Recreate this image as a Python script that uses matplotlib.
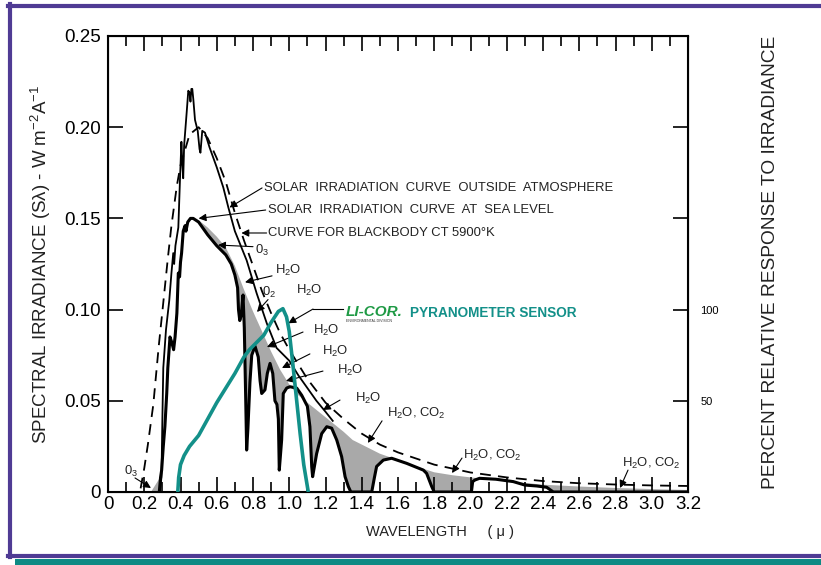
import numpy as np
import matplotlib.pyplot as plt
from matplotlib.lines import Line2D
from matplotlib.patches import Rectangle

plt.rcParams['font.family'] = ['Liberation Sans', 'DejaVu Sans']
plt.rcParams['mathtext.fontset'] = 'custom'
plt.rcParams['mathtext.rm'] = 'Liberation Sans'
plt.rcParams['mathtext.it'] = 'Liberation Sans:italic'

# wavelength (micron) / spectral irradiance (W m-2 A-1)
outside_x = [0.285, 0.295, 0.300, 0.305, 0.320, 0.338, 0.350, 0.360, 0.365, 0.372,
             0.388, 0.397, 0.405, 0.410, 0.415, 0.420, 0.434, 0.443, 0.450, 0.455,
             0.460, 0.465, 0.471, 0.480, 0.495, 0.505, 0.510, 0.520, 0.535, 0.560,
             0.600, 0.636, 0.664, 0.700, 0.765, 0.820, 0.876, 0.930, 1.000, 1.050,
             1.100, 1.150, 1.200, 1.240]
outside_y = [0.000, 0.008, 0.040, 0.068, 0.089, 0.105, 0.120, 0.131, 0.125, 0.135,
             0.145, 0.171, 0.192, 0.180, 0.172, 0.190, 0.208, 0.220, 0.219, 0.214,
             0.221, 0.221, 0.215, 0.204, 0.198, 0.188, 0.186, 0.198, 0.197, 0.189,
             0.178, 0.167, 0.156, 0.143, 0.127, 0.109, 0.0925, 0.079, 0.072, 0.064,
             0.057, 0.050, 0.044, 0.039]

sea_x = [0.283, 0.290, 0.296, 0.305, 0.314, 0.324, 0.330, 0.342, 0.352, 0.362,
         0.370, 0.380, 0.388, 0.395, 0.400, 0.406, 0.415, 0.425, 0.430, 0.440,
         0.455, 0.470, 0.500, 0.550, 0.600, 0.650, 0.680, 0.700, 0.715, 0.720,
         0.727, 0.735, 0.745, 0.752, 0.760, 0.765, 0.772, 0.783, 0.793, 0.811,
         0.829, 0.839, 0.848, 0.866, 0.879, 0.894, 0.909, 0.921, 0.932, 0.940,
         0.945, 0.958, 0.967, 0.986, 1.004, 1.041, 1.069, 1.087, 1.100, 1.114,
         1.124, 1.129, 1.151, 1.179, 1.207, 1.234, 1.262, 1.289, 1.308, 1.326,
         1.340, 1.455, 1.470, 1.482, 1.519, 1.565, 1.648, 1.740, 1.758, 1.786,
         1.800, 2.005, 2.012, 2.025, 2.050, 2.140, 2.236, 2.300, 2.365, 2.420,
         2.457, 3.200]
sea_y = [0.000, 0.008, 0.012, 0.025, 0.036, 0.054, 0.068, 0.085, 0.082, 0.078,
         0.085, 0.098, 0.120, 0.118, 0.126, 0.131, 0.143, 0.146, 0.143, 0.148,
         0.150, 0.150, 0.148, 0.141, 0.135, 0.130, 0.125, 0.119, 0.112, 0.100,
         0.094, 0.097, 0.108, 0.090, 0.050, 0.023, 0.035, 0.060, 0.075, 0.080,
         0.074, 0.061, 0.054, 0.056, 0.065, 0.0705, 0.065, 0.050, 0.048, 0.040,
         0.012, 0.0285, 0.054, 0.057, 0.0577, 0.057, 0.053, 0.0495, 0.047, 0.0358,
         0.0139, 0.0084, 0.021, 0.032, 0.0358, 0.035, 0.0285, 0.0194, 0.0084, 0.003,
         0.000, 0.000, 0.008, 0.014, 0.0175, 0.0185, 0.0157, 0.012, 0.0102, 0.003,
         0.000, 0.000, 0.0057, 0.0066, 0.0075, 0.0070, 0.0057, 0.0038, 0.0033, 0.0026,
         0.000, 0.000]

# upper edge of the absorption bands
band_x = [0.47, 0.50, 0.55, 0.60, 0.65, 0.70, 0.75, 0.80, 0.85, 0.90,
          0.95, 1.00, 1.05, 1.10, 1.15, 1.20, 1.25, 1.30, 1.35, 1.40,
          1.50, 1.60, 1.70, 1.80, 1.90, 2.00, 2.20, 2.40, 2.60, 2.80,
          3.00, 3.20]
band_y = [0.150, 0.149, 0.145, 0.140, 0.134, 0.124, 0.111, 0.099, 0.088, 0.077,
          0.067, 0.059, 0.053, 0.049, 0.045, 0.041, 0.037, 0.033, 0.0285, 0.026,
          0.021, 0.0175, 0.014, 0.0108, 0.0092, 0.0080, 0.0060, 0.0040, 0.0030, 0.0022,
          0.0016, 0.0011]

ozone_x = [0.235, 0.290, 0.290]
ozone_y = [0.000, 0.000, 0.009]

blackbody_x = [0.18, 0.20, 0.22, 0.25, 0.28, 0.30, 0.33, 0.35, 0.38, 0.40,
               0.45, 0.50, 0.55, 0.60, 0.65, 0.70, 0.75, 0.80, 0.85, 0.90,
               0.95, 1.00, 1.10, 1.20, 1.30, 1.40, 1.50, 1.60, 1.80, 2.00,
               2.20, 2.40, 2.60, 2.80, 3.00, 3.20]
blackbody_y = [0.002, 0.013, 0.026, 0.048, 0.080, 0.099, 0.128, 0.146, 0.168, 0.179,
               0.196, 0.200, 0.194, 0.183, 0.170, 0.153, 0.138, 0.124, 0.110, 0.098,
               0.087, 0.078, 0.062, 0.049, 0.040, 0.032, 0.026, 0.0217, 0.015, 0.0107,
               0.0080, 0.0060, 0.0048, 0.0041, 0.0036, 0.0033]

# pyranometer relative response (%)
sensor_x = [0.385, 0.390, 0.400, 0.420, 0.450, 0.500, 0.550, 0.600, 0.650, 0.700,
            0.750, 0.780, 0.820, 0.860, 0.900, 0.940, 0.965, 0.985, 1.000, 1.020,
            1.040, 1.060, 1.080, 1.105]
sensor_pct = [0, 8, 15, 20, 25, 31, 40, 49, 57, 65,
              74, 78, 82, 86, 93, 99, 100.5, 96, 88, 70,
              51, 32, 15, 0]

x_ticks = [0, 0.2, 0.4, 0.6, 0.8, 1.0, 1.2, 1.4, 1.6, 1.8, 2.0, 2.2, 2.4, 2.6, 2.8, 3.0, 3.2]
x_labels = ['0', '0.2', '0.4', '0.6', '0.8', '1.0', '1.2', '1.4', '1.6', '1.8',
            '2.0', '2.2', '2.4', '2.6', '2.8', '3.0', '3.2']
y_ticks = [0, 0.05, 0.10, 0.15, 0.20, 0.25]
y_labels = ['0', '0.05', '0.10', '0.15', '0.20', '0.25']
pct_ticks = [50, 100, 150, 200]
pct_labels = ['50', '100', '', '']

GRAY = '#a9a9a9'
TEAL = '#139089'
PURPLE = '#4f3b94'
INK = '#222222'

fig = plt.figure(figsize=(8.21, 5.65), dpi=100)
ax = fig.add_axes([108 / 821, 73 / 565, 580 / 821, 456 / 565])

# absorption bands: area between the band edge and the sea level curve
sx = np.array(sea_x)
sy = np.array(sea_y)
keep = sx >= band_x[0]
poly_x = np.concatenate([band_x, sx[keep][::-1]])
poly_y = np.concatenate([band_y, sy[keep][::-1]])
ax.fill(poly_x, poly_y, color=GRAY, lw=0, zorder=1)
ax.fill(ozone_x, ozone_y, color=GRAY, lw=0, zorder=1)

ax.plot(blackbody_x, blackbody_y, color='black', lw=1.3, ls=(0, (6, 4)), zorder=3)
ax.plot(outside_x, outside_y, color='black', lw=1.3, zorder=3)
ax.plot(sea_x, sea_y, color='black', lw=2.2, zorder=4, solid_joinstyle='round')

ax.set_xlim(0, 3.2)
ax.set_ylim(0, 0.25)
ax.set_xticks(x_ticks)
ax.set_xticklabels(x_labels)
ax.set_xticks(np.arange(0.1, 3.2, 0.2), minor=True)
ax.set_yticks(y_ticks)
ax.set_yticklabels(y_labels)
ax.tick_params(axis='x', which='major', direction='in', length=11, width=1.2,
               top=True, labelsize=13.5, pad=3)
ax.tick_params(axis='x', which='minor', direction='in', length=7, width=1.2, top=True)
ax.tick_params(axis='y', which='major', direction='in', length=11, width=1.2,
               labelsize=13.5, pad=5)
for s in ax.spines.values():
    s.set_linewidth(1.5)

ax.set_ylabel(r'SPECTRAL IRRADIANCE (S$\mathregular{\lambda}$) - W m$^\mathregular{-2}$A$^\mathregular{-1}$',
              fontsize=13.5, labelpad=8, color=INK)
fig.text(440 / 821, 1 - 532 / 565, 'WAVELENGTH     ( \u03bc )', fontsize=10.5,
         ha='center', va='center', color=INK)

ax2 = ax.twinx()
ax2.set_ylim(0, 250)
ax2.plot(sensor_x, sensor_pct, color=TEAL, lw=2.6, zorder=5, solid_capstyle='butt')
ax2.set_yticks(pct_ticks)
ax2.set_yticklabels(pct_labels)
ax2.tick_params(axis='y', direction='in', length=11, width=1.2, labelsize=8, pad=9)
fig.text(770 / 821, 1 - 262 / 565, 'PERCENT RELATIVE RESPONSE TO IRRADIANCE', fontsize=13.8,
         rotation=90, ha='center', va='center', color=INK)
ax2.set_zorder(ax.get_zorder() + 1)
ax2.patch.set_visible(False)

arrow = dict(arrowstyle='-|>', color='black', lw=0.8, mutation_scale=11,
             shrinkA=0, shrinkB=0)
label_font = dict(fontsize=9.4, va='center', ha='left', color=INK)
h2o = r'H$_\mathregular{2}$O'
h2o_co2 = r'H$_\mathregular{2}$O, CO$_\mathregular{2}$'

ax.annotate('', xy=(0.67, 0.156), xytext=(0.85, 0.1667), arrowprops=arrow)
ax.text(0.862, 0.1667, 'SOLAR  IRRADIATION  CURVE  OUTSIDE  ATMOSPHERE', **label_font)
ax.annotate('', xy=(0.50, 0.150), xytext=(0.87, 0.1546), arrowprops=arrow)
ax.text(0.883, 0.1546, 'SOLAR  IRRADIATION  CURVE  AT  SEA LEVEL', **label_font)
ax.annotate('', xy=(0.736, 0.142), xytext=(0.875, 0.142), arrowprops=arrow)
ax.text(0.883, 0.142, 'CURVE FOR BLACKBODY CT 5900\u00b0K', **label_font)

ax.annotate('', xy=(0.607, 0.1354), xytext=(0.80, 0.1345), arrowprops=arrow)
ax.text(0.811, 0.1325, r'0$_\mathregular{3}$', **label_font)
ax.annotate('', xy=(0.756, 0.115), xytext=(0.905, 0.1185), arrowprops=arrow)
ax.text(0.921, 0.1217, h2o, **label_font)
ax.annotate('', xy=(0.822, 0.0987), xytext=(0.883, 0.1055), arrowprops=arrow)
ax.text(0.85, 0.1096, r'0$_\mathregular{2}$', **label_font)
ax.text(1.037, 0.1107, h2o, **label_font)
ax.annotate('', xy=(0.877, 0.0795), xytext=(1.076, 0.0877), arrowprops=arrow)
ax.text(1.131, 0.0883, h2o, **label_font)
ax.annotate('', xy=(0.960, 0.068), xytext=(1.114, 0.0757), arrowprops=arrow)
ax.text(1.181, 0.0768, h2o, **label_font)
ax.annotate('', xy=(0.982, 0.0609), xytext=(1.186, 0.0663), arrowprops=arrow)
ax.text(1.263, 0.0669, h2o, **label_font)
ax.annotate('', xy=(1.186, 0.045), xytext=(1.28, 0.0504), arrowprops=arrow)
ax.text(1.363, 0.0515, h2o, **label_font)
ax.annotate('', xy=(1.434, 0.0269), xytext=(1.512, 0.039), arrowprops=arrow)
ax.text(1.539, 0.0428, h2o_co2, **label_font)
ax.annotate('', xy=(1.898, 0.0104), xytext=(1.953, 0.0186), arrowprops=arrow)
ax.text(1.959, 0.0203, h2o_co2, **label_font)
ax.annotate('', xy=(2.825, 0.0022), xytext=(2.869, 0.012), arrowprops=arrow)
ax.text(2.836, 0.0159, h2o_co2, **label_font)
ax.annotate('', xy=(0.237, 0.0022), xytext=(0.149, 0.0077), arrowprops=arrow)
ax.text(0.09, 0.0115, r'0$_\mathregular{3}$', **label_font)

# sensor callout
ax.plot([1.297, 1.131], [0.1003, 0.1003], color='black', lw=0.8)
ax.annotate('', xy=(0.995, 0.0925), xytext=(1.131, 0.1003), arrowprops=arrow)
ax.text(1.313, 0.0985, 'LI-COR.', color='#1f9a45', fontsize=11, fontweight='bold',
        fontstyle='italic', va='center', ha='left')
ax.text(1.313, 0.0935, 'ENVIRONMENTAL DIVISION', color='#333333', fontsize=2.5,
        va='center', ha='left')
ax.text(1.666, 0.098, 'PYRANOMETER SENSOR', color=TEAL, fontsize=9.8, fontweight='bold',
        va='center', ha='left')

# page frame
def px(x, y):
    return x / 821, 1 - y / 565

for (x0, y0), (x1, y1) in [((10, 4), (10, 557)), ((8, 6), (821, 6)), ((8, 556), (821, 556))]:
    fig.add_artist(Line2D([px(x0, y0)[0], px(x1, y1)[0]], [px(x0, y0)[1], px(x1, y1)[1]],
                          color=PURPLE, lw=3, transform=fig.transFigure))
fig.add_artist(Rectangle(px(15, 565), 806 / 821, 6 / 565, color='#0e8a84',
                         transform=fig.transFigure, lw=0))

fig.savefig('out.png', dpi=100)
